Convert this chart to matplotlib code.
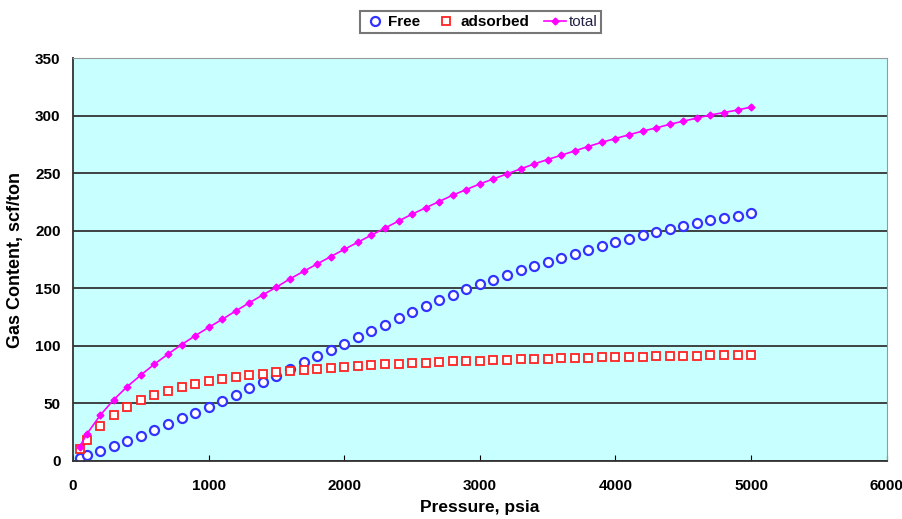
import matplotlib
matplotlib.use("Agg")
from matplotlib import pyplot as plt

plt.rcParams['font.family'] = ['Liberation Sans', 'DejaVu Sans']

# pressure, psia
pressure = [50, 100, 200, 300, 400, 500, 600, 700, 800, 900,
            1000, 1100, 1200, 1300, 1400, 1500, 1600, 1700, 1800, 1900,
            2000, 2100, 2200, 2300, 2400, 2500, 2600, 2700, 2800, 2900,
            3000, 3100, 3200, 3300, 3400, 3500, 3600, 3700, 3800, 3900,
            4000, 4100, 4200, 4300, 4400, 4500, 4600, 4700, 4800, 4900,
            5000]

free = [2.5, 5.0, 9.0, 13.3, 17.6, 22.0, 27.0, 32.0, 37.0, 42.0,
        47.0, 52.0, 57.5, 63.0, 68.5, 74.0, 80.0, 85.5, 91.0, 96.5,
        102.0, 107.5, 113.0, 118.5, 124.0, 129.5, 134.5, 139.5, 144.5, 149.0,
        153.5, 157.5, 161.5, 165.5, 169.5, 173.0, 176.5, 180.0, 183.5, 187.0,
        190.0, 193.0, 196.0, 198.5, 201.5, 204.0, 206.5, 209.0, 211.0, 213.0,
        215.5]

adsorbed = [9.9, 18.1, 30.6, 39.9, 47.0, 52.6, 57.1, 60.8, 64.0, 66.7,
            69.0, 71.0, 72.8, 74.4, 75.8, 77.0, 78.2, 79.2, 80.1, 81.0,
            81.8, 82.5, 83.2, 83.8, 84.4, 84.9, 85.4, 85.9, 86.4, 86.8,
            87.2, 87.5, 87.9, 88.2, 88.5, 88.9, 89.1, 89.4, 89.7, 89.9,
            90.1, 90.4, 90.6, 90.8, 91.0, 91.2, 91.4, 91.6, 91.7, 91.9,
            92.0]

total = [12.4, 23.1, 39.6, 53.2, 64.6, 74.6, 84.1, 92.8, 101.0, 108.7,
         116.0, 123.0, 130.3, 137.4, 144.3, 151.0, 158.2, 164.7, 171.1, 177.5,
         183.8, 190.0, 196.2, 202.3, 208.4, 214.4, 219.9, 225.4, 230.9, 235.8,
         240.7, 245.0, 249.4, 253.7, 258.0, 261.9, 265.6, 269.4, 273.2, 276.9,
         280.1, 283.4, 286.6, 289.3, 292.5, 295.2, 297.9, 300.6, 302.7, 304.9,
         307.5]

fig = plt.figure(figsize=(9.02, 5.19), dpi=100)
ax = fig.add_axes([0.081, 0.112, 0.902, 0.776])
ax.set_facecolor('#C8FFFF')

ax.plot(pressure, free, 'o', color='#3333FF', mfc='white', ms=6.5, mew=1.6,
        ls='none', label='Free')
ax.plot(pressure, adsorbed, 's', color='#FF2222', mfc='white', ms=5.5, mew=1.3,
        ls='none', label='adsorbed')
ax.plot(pressure, total, '-D', color='#FF00FF', ms=3.5, lw=1.2, label='total')

ax.set_xlim(0, 6000)
ax.set_ylim(0, 350)
ax.set_xticks(range(0, 6001, 1000))
ax.set_yticks(range(0, 351, 50))
ax.yaxis.grid(True, color='#333333', lw=1.3)
ax.set_axisbelow(True)
ax.tick_params(axis='x', direction='in', length=4, pad=13)
ax.tick_params(axis='y', direction='in', length=0, pad=9)
for lab in ax.get_xticklabels() + ax.get_yticklabels():
    lab.set_fontweight('bold')
    lab.set_fontsize(11)

for side in ['left', 'bottom']:
    ax.spines[side].set_color('#333333')
    ax.spines[side].set_linewidth(1.3)
for side in ['top', 'right']:
    ax.spines[side].set_color('#999999')

ax.set_xlabel('Pressure, psia', fontsize=12.5, fontweight='bold', labelpad=5)
ax.set_ylabel('Gas Content, scf/ton', fontsize=13, fontweight='bold', labelpad=8)

leg = fig.legend(loc='center', bbox_to_anchor=(0.533, 0.957), ncol=3,
                 frameon=True, fancybox=False, edgecolor='#555555',
                 prop={'weight': 'bold', 'size': 11},
                 handlelength=1.4, handletextpad=0.2, columnspacing=1.0,
                 borderpad=0.25)
leg.get_frame().set_linewidth(1.5)
leg.get_texts()[2].set_fontweight('normal')
leg.get_texts()[2].set_color('#222244')

fig.savefig('out.png', dpi=100)
